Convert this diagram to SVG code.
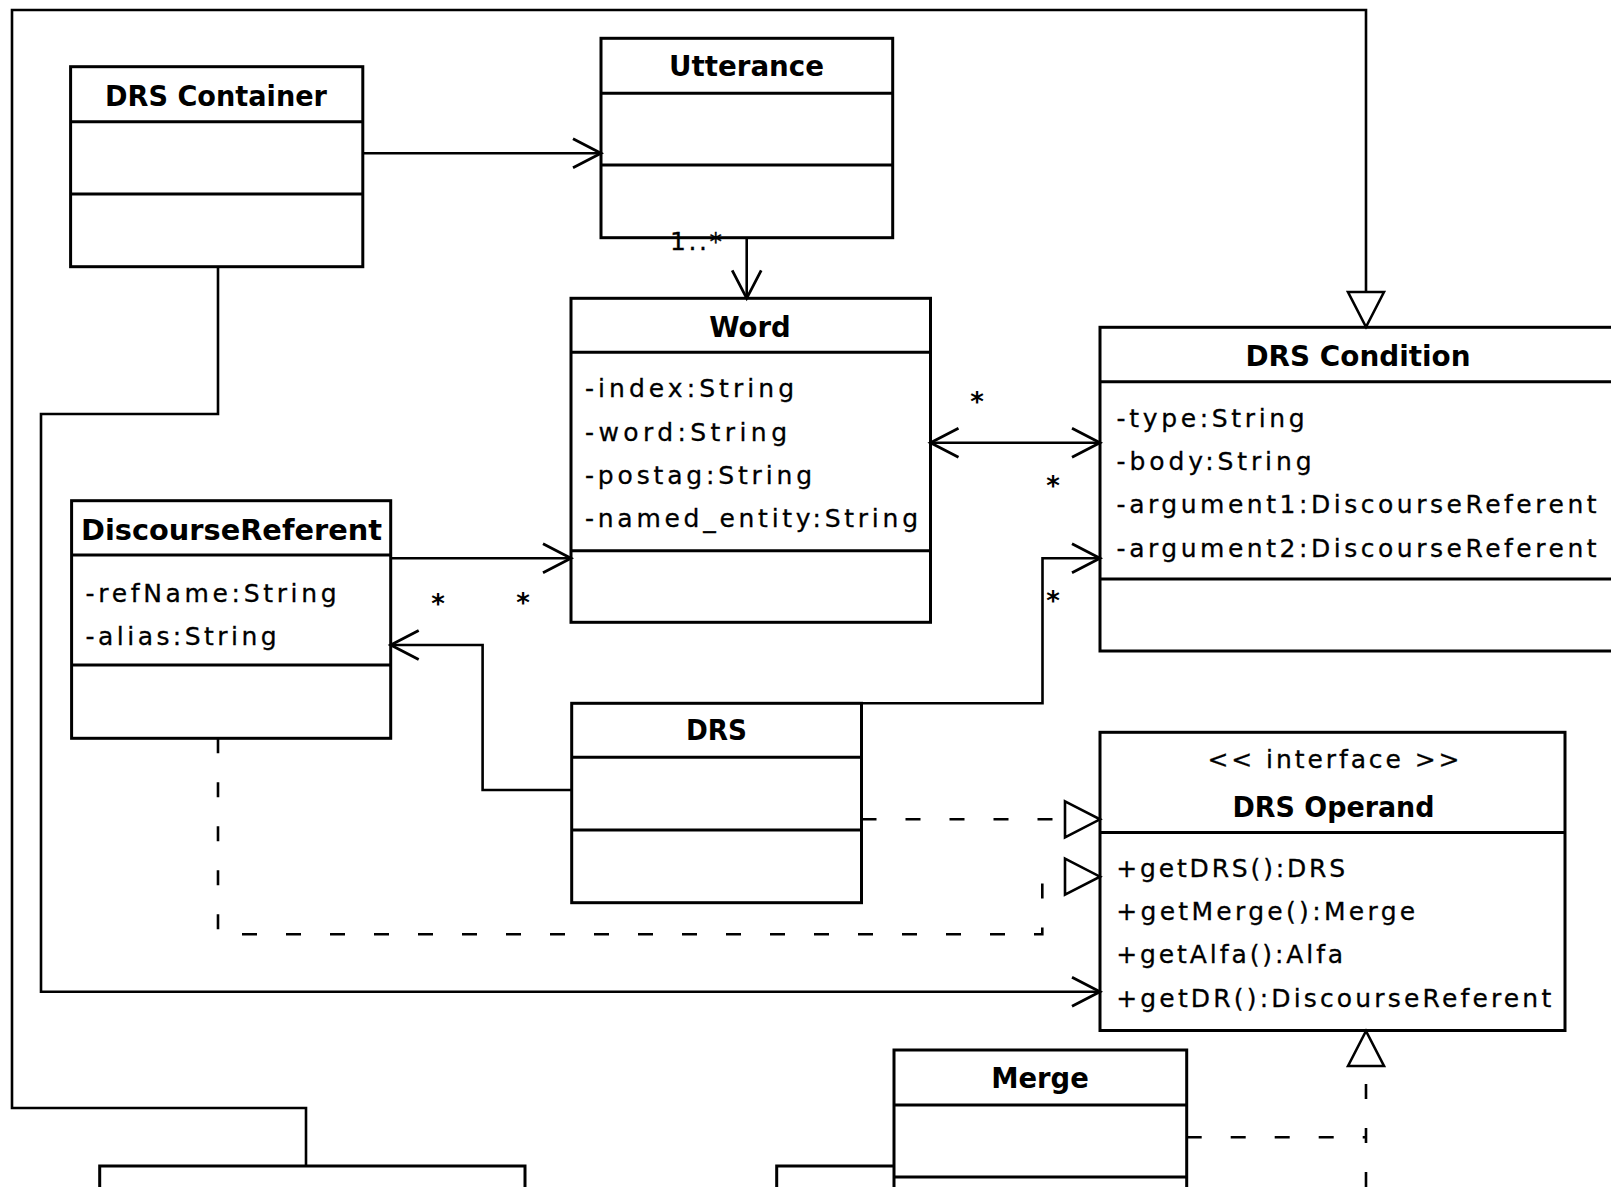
<svg xmlns="http://www.w3.org/2000/svg" width="1611" height="1187" viewBox="0 0 1611 1187">
<style>
.box{fill:#fff;stroke:#000;stroke-width:3}
.sep{stroke:#000;stroke-width:3;fill:none}
.ln{fill:none;stroke:#000;stroke-width:2.6}
.dash{fill:none;stroke:#000;stroke-width:2.6;stroke-dasharray:15 29}
.t{font-family:"DejaVu Sans","Liberation Sans",sans-serif;font-weight:bold;font-size:28px;fill:#000;text-anchor:middle}
.a{font-family:"DejaVu Sans","Liberation Sans",sans-serif;font-size:25px;fill:#000;stroke:#000;stroke-width:0.3}
.s{font-family:"DejaVu Sans","Liberation Sans",sans-serif;font-size:25px;fill:#000;stroke:#000;stroke-width:0.3;text-anchor:middle}
.m{font-family:"DejaVu Sans","Liberation Sans",sans-serif;font-size:26px;font-weight:bold;fill:#000;text-anchor:middle}
</style>
<defs>
<marker id="open" markerUnits="userSpaceOnUse" markerWidth="40" markerHeight="40" viewBox="-34 -20 40 40" refX="0" refY="0" orient="auto-start-reverse" overflow="visible">
<path d="M-28,-14.5 L0,0 L-28,14.5" fill="none" stroke="#000" stroke-width="2.8"/>
</marker>
<marker id="tri" markerUnits="userSpaceOnUse" markerWidth="44" markerHeight="44" viewBox="-40 -22 44 44" refX="0" refY="0" orient="auto" overflow="visible">
<path d="M-35,-18 L0,0 L-35,18 Z" fill="#fff" stroke="#000" stroke-width="2.6" stroke-dasharray="none"/>
</marker>
</defs>
<rect width="1611" height="1187" fill="#fff"/>

<g id="drs-container">
<rect class="box" x="70.6" y="66.7" width="292.2" height="200"/>
<path class="sep" d="M70.6,121.7 H362.8 M70.6,194 H362.8"/>
<text class="t" x="216" y="106" textLength="222" lengthAdjust="spacingAndGlyphs">DRS Container</text>
</g>

<g id="utterance">
<rect class="box" x="601" y="38.3" width="291.7" height="199.4"/>
<path class="sep" d="M601,93.3 H892.7 M601,165 H892.7"/>
<text class="t" x="746.5" y="76" textLength="155" lengthAdjust="spacingAndGlyphs">Utterance</text>
</g>

<g id="word">
<rect class="box" x="571" y="298.3" width="359.5" height="324"/>
<path class="sep" d="M571,352.3 H930.5 M571,550.7 H930.5"/>
<text class="t" x="750" y="336.7" textLength="81.5" lengthAdjust="spacingAndGlyphs">Word</text>
<text class="a" x="585" y="397.3" textLength="209" lengthAdjust="spacing">-index:String</text>
<text class="a" x="585" y="440.6" textLength="202" lengthAdjust="spacing">-word:String</text>
<text class="a" x="585" y="483.9" textLength="227" lengthAdjust="spacing">-postag:String</text>
<text class="a" x="585" y="527.2" textLength="333" lengthAdjust="spacing">-named_entity:String</text>
</g>

<g id="drs-condition">
<rect class="box" x="1100" y="327.3" width="516" height="323.7"/>
<path class="sep" d="M1100,381.7 H1616 M1100,579 H1616"/>
<text class="t" x="1358" y="366" textLength="225" lengthAdjust="spacingAndGlyphs">DRS Condition</text>
<text class="a" x="1116.6" y="426.7" textLength="188" lengthAdjust="spacing">-type:String</text>
<text class="a" x="1116.6" y="470" textLength="195" lengthAdjust="spacing">-body:String</text>
<text class="a" x="1116.6" y="513.3" textLength="480" lengthAdjust="spacing">-argument1:DiscourseReferent</text>
<text class="a" x="1116.6" y="556.6" textLength="480" lengthAdjust="spacing">-argument2:DiscourseReferent</text>
</g>

<g id="discourse-referent">
<rect class="box" x="71.6" y="500.7" width="319.1" height="237.6"/>
<path class="sep" d="M71.6,555 H390.7 M71.6,665 H390.7"/>
<text class="t" x="231.5" y="540" textLength="301" lengthAdjust="spacingAndGlyphs">DiscourseReferent</text>
<text class="a" x="85.6" y="601.7" textLength="251" lengthAdjust="spacing">-refName:String</text>
<text class="a" x="85.6" y="645" textLength="191" lengthAdjust="spacing">-alias:String</text>
</g>

<g id="drs">
<rect class="box" x="571.7" y="703.3" width="289.8" height="199.4"/>
<path class="sep" d="M571.7,757.3 H861.5 M571.7,830 H861.5"/>
<text class="t" x="716.5" y="740" textLength="61" lengthAdjust="spacingAndGlyphs">DRS</text>
</g>

<g id="drs-operand">
<rect class="box" x="1100" y="732.3" width="465" height="298.2"/>
<path class="sep" d="M1100,832.5 H1565"/>
<text class="s" x="1333.5" y="768.3" textLength="252" lengthAdjust="spacing">&lt;&lt; interface &gt;&gt;</text>
<text class="t" x="1333.5" y="816.7" textLength="202" lengthAdjust="spacingAndGlyphs">DRS Operand</text>
<text class="a" x="1116.2" y="876.7" textLength="229" lengthAdjust="spacing">+getDRS():DRS</text>
<text class="a" x="1116.2" y="920" textLength="299" lengthAdjust="spacing">+getMerge():Merge</text>
<text class="a" x="1116.2" y="963.3" textLength="227" lengthAdjust="spacing">+getAlfa():Alfa</text>
<text class="a" x="1116.2" y="1006.7" textLength="435" lengthAdjust="spacing">+getDR():DiscourseReferent</text>
</g>

<g id="bottom-left">
<rect class="box" x="99.7" y="1166" width="425.3" height="60"/>
</g>

<g id="bottom-middle">
<rect class="box" x="776.7" y="1166" width="200" height="60"/>
</g>

<g id="merge">
<rect class="box" x="894" y="1050" width="292.7" height="180"/>
<path class="sep" d="M894,1105 H1186.7 M894,1177 H1186.7"/>
<text class="t" x="1040" y="1088.3" textLength="97.6" lengthAdjust="spacingAndGlyphs">Merge</text>
</g>

<g id="connectors">
<path class="ln" d="M306,1166 V1108 H12 V10 H1366 V327" marker-end="url(#tri)"/>
<path class="ln" d="M362.8,153.3 H601" marker-end="url(#open)"/>
<path class="ln" d="M746.7,237.7 V298.3" marker-end="url(#open)"/>
<path class="ln" d="M930.5,442.7 H1100" marker-start="url(#open)" marker-end="url(#open)"/>
<path class="ln" d="M390.7,558.3 H571" marker-end="url(#open)"/>
<path class="ln" d="M571.7,790 H482.6 V645 H390.7" marker-end="url(#open)"/>
<path class="ln" d="M861.5,703.3 H1042.5 V558.3 H1100" marker-end="url(#open)"/>
<path class="ln" d="M218,266.7 V414 H41 V991.7 H1100" marker-end="url(#open)"/>
<path class="dash" d="M861.5,819.3 H1100" marker-end="url(#tri)"/>
<path class="dash" d="M218,738.3 V934.3 H1042.3 V876.7 H1100" marker-end="url(#tri)"/>
<path class="dash" d="M1186.7,1137.3 H1366"/>
<path class="dash" d="M1366,1187 V1031" marker-end="url(#tri)"/>
<text class="a" x="670" y="250" textLength="52" lengthAdjust="spacing">1..*</text>
<text class="m" x="977" y="411">*</text>
<text class="m" x="1053" y="495">*</text>
<text class="m" x="1053" y="610">*</text>
<text class="m" x="438" y="613">*</text>
<text class="m" x="523" y="612">*</text>
</g>
</svg>
